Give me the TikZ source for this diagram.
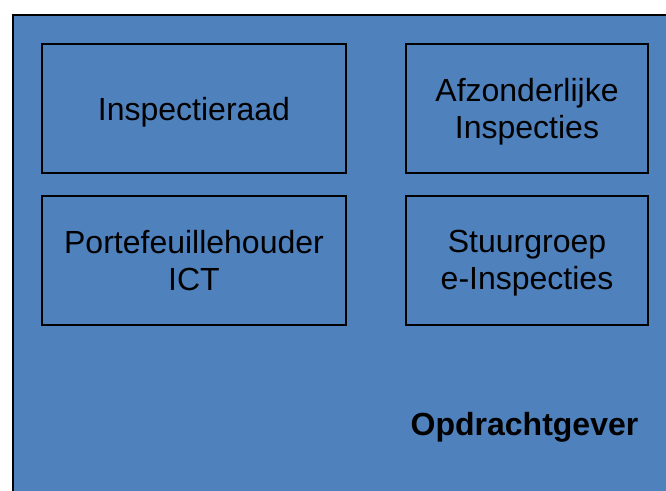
\documentclass[tikz,border=0pt]{standalone}
\usepackage{fontspec}
\setmainfont{Liberation Sans}
\definecolor{officeblue}{HTML}{4F81BD}
\begin{document}
\begin{tikzpicture}[x=0.75pt,y=-0.75pt,
  unitbox/.style={draw=black,line width=1.5pt,rectangle,minimum height=96.75pt,
    align=center,font=\fontsize{24}{27.6}\selectfont,inner sep=0pt,text depth=0pt},
  widebox/.style={unitbox,minimum width=228pt},
  narrowbox/.style={unitbox,minimum width=181.5pt},
  label/.style={font=\fontsize{24}{27.6}\selectfont\bfseries,inner sep=0pt,text depth=0pt}]
\useasboundingbox (0,0) rectangle (666,490);
\clip (0,0) rectangle (666,490);
\draw[fill=officeblue,draw=black,line width=1.5pt] (12.5,14.5) rectangle (680,500);
\node[widebox] (raad) at (194,108.5) {Inspectieraad};
\node[narrowbox] (afz) at (527,108.5) {Afzonderlijke\\Inspecties};
\node[widebox] (ict) at (194,260) {Portefeuillehouder\\ICT};
\node[narrowbox] (stuur) at (527,260) {Stuurgroep\\e-Inspecties};
\node[label] (opdr) at (524.5,424) {Opdrachtgever};
\end{tikzpicture}
\end{document}
